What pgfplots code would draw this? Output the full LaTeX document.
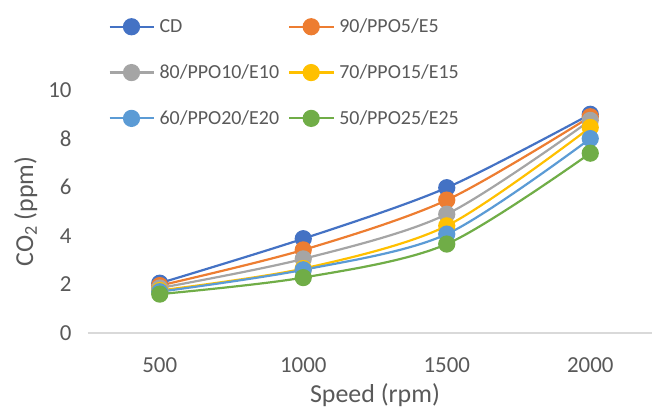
\documentclass[border=0pt]{standalone}
\usepackage{pgfplots}
\pgfplotsset{compat=1.18}
\usepackage{fontspec}
\setmainfont{Carlito}
\definecolor{cA}{HTML}{4472C4}
\definecolor{cB}{HTML}{ED7D31}
\definecolor{cC}{HTML}{A5A5A5}
\definecolor{cD}{HTML}{FFC000}
\definecolor{cE}{HTML}{5B9BD5}
\definecolor{cF}{HTML}{70AD47}
\definecolor{txt}{HTML}{595959}
\definecolor{axl}{HTML}{D9D9D9}
\begin{document}
\begin{tikzpicture}
\useasboundingbox (-88bp,-77bp) rectangle (564bp,333bp);
\begin{axis}[
  scale only axis,
  width=574bp, height=243bp,
  xmin=-0.5, xmax=3.5, ymin=0, ymax=10,
  xtick={0,1,2,3}, xticklabels={500,1000,1500,2000},
  ytick={0,2,4,6,8,10},
  axis x line*=bottom, axis y line*=left,
  x axis line style={axl, line width=1.2bp, -},
  y axis line style={draw=none},
  major tick length=0pt,
  tick label style={font=\fontsize{23}{26}\selectfont, text=txt},
  /pgf/number format/assume math mode=true,
  xticklabel style={yshift=-21bp},
  yticklabel style={xshift=-13bp},
  xlabel={Speed (rpm)}, ylabel={CO\textsubscript{2} (ppm)},
  label style={font=\fontsize{26}{30}\selectfont, text=txt},
  xlabel style={yshift=-4bp},
  ylabel style={yshift=4bp},
  clip=false,
  every axis plot/.append style={smooth, line width=2.2bp, mark=*, mark size=7.5bp},
  legend columns=2,
  legend style={draw=none, fill=none, at={(0.03,1.309)}, anchor=north west,
    font=\fontsize{20}{23}\selectfont, text=txt, row sep=26.5bp,
    /tikz/every even column/.append style={column sep=4bp},
    /tikz/every odd column/.append style={column sep=0bp},
    nodes={inner xsep=5bp}},
  legend cell align=left,
  legend image code/.code={\draw[mark repeat=2,mark phase=2] plot coordinates {(0bp,0bp)(22bp,0bp)(44bp,0bp)};},
]
\addplot[cA, mark options={fill=cA}] coordinates {(0,2.05) (1,3.88) (2,5.98) (3,9.0)};
\addlegendentry{CD}
\addplot[cB, mark options={fill=cB}] coordinates {(0,1.95) (1,3.42) (2,5.47) (3,8.9)};
\addlegendentry{90/PPO5/E5}
\addplot[cC, mark options={fill=cC}] coordinates {(0,1.85) (1,3.05) (2,4.89) (3,8.75)};
\addlegendentry{80/PPO10/E10}
\addplot[cD, mark options={fill=cD}] coordinates {(0,1.75) (1,2.65) (2,4.41) (3,8.46)};
\addlegendentry{70/PPO15/E15}
\addplot[cE, mark options={fill=cE}] coordinates {(0,1.7) (1,2.6) (2,4.07) (3,8.0)};
\addlegendentry{60/PPO20/E20}
\addplot[cF, mark options={fill=cF}] coordinates {(0,1.6) (1,2.28) (2,3.66) (3,7.4)};
\addlegendentry{50/PPO25/E25}
\end{axis}
\end{tikzpicture}
\end{document}
